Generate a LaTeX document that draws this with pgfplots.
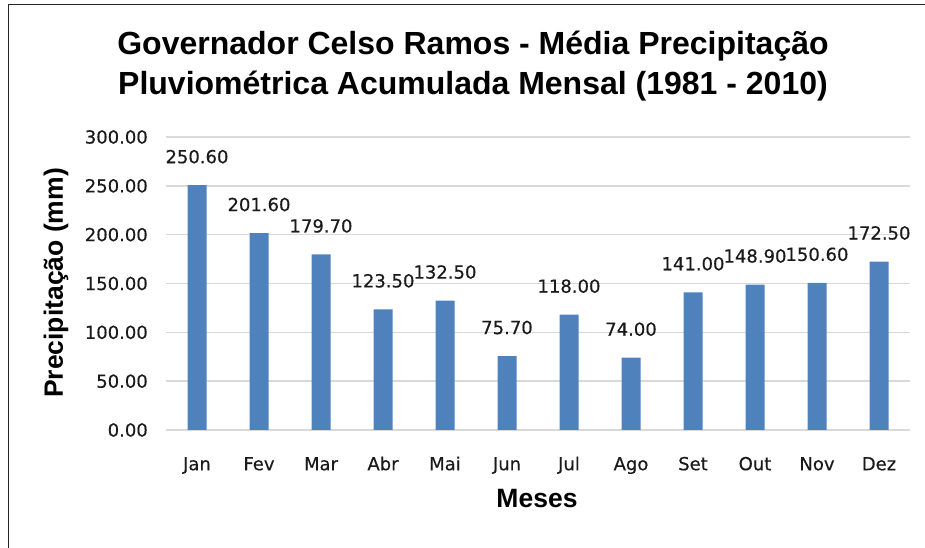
\documentclass[border=0pt]{standalone}
\usepackage{fontspec}
\setmainfont{DejaVu Sans}
\newfontfamily\arialfont{Liberation Sans}
\newfontfamily\tickfont[FakeBold=0.4]{DejaVu Sans}
\usepackage{pgfplots}
\pgfplotsset{compat=1.18}
\definecolor{barblue}{HTML}{4F81BD}
\definecolor{gridgray}{HTML}{D9D9D9}
\definecolor{txt}{HTML}{1A1A1A}
\begin{document}
\begin{tikzpicture}[x=1bp,y=1bp]
\useasboundingbox (0,0) rectangle (925,548);
\draw[line width=1.3bp,black!85] (8.5,0) -- (8.5,543.5) -- (925,543.5);
\node[font=\arialfont\bfseries\fontsize{32bp}{40bp}\selectfont, anchor=base] at (473,493) {Governador Celso Ramos - Média Precipitação};
\node[font=\arialfont\bfseries\fontsize{32bp}{40bp}\selectfont, anchor=base] at (473,453) {Pluviométrica Acumulada Mensal (1981 - 2010)};
\node[font=\arialfont\bfseries\fontsize{26.5bp}{30bp}\selectfont, rotate=90, anchor=center] at (56,265) {Precipitação (mm)};
\node[font=\arialfont\bfseries\fontsize{26.5bp}{30bp}\selectfont, anchor=center] at (537,49) {Meses};
\begin{axis}[
  at={(166bp,118bp)}, anchor=south west,
  scale only axis, width=744bp, height=293bp,
  ybar, bar width=19bp,
  xmin=-0.5, xmax=11.5, ymin=0, ymax=300,
  axis line style={draw=none},
  ymajorgrids, grid style={gridgray, line width=1.5bp},
  major tick style={draw=none},
  ytick={0,50,...,300},
  xtick={0,...,11},
  xticklabels={Jan,Fev,Mar,Abr,Mai,Jun,Jul,Ago,Set,Out,Nov,Dez},
  /pgf/number format/assume math mode=true,
  yticklabel={\pgfmathprintnumber[fixed,fixed zerofill,precision=2,1000 sep={}]{\tick}},
  ticklabel style={font=\tickfont\fontsize{18bp}{21bp}\selectfont, text=txt, inner sep=0pt},
  yticklabel style={anchor=east, xshift=-18bp},
  xticklabel style={anchor=base, yshift=-36bp},
  nodes near coords={\pgfmathprintnumber[fixed,fixed zerofill,precision=2,1000 sep={}]{\pgfplotspointmeta}},
  nodes near coords style={font=\tickfont\fontsize{18bp}{21bp}\selectfont, text=txt, anchor=base, yshift=22bp, inner sep=0pt},
]
\addplot[fill=barblue, draw=none] coordinates {
(0,250.6) (1,201.6) (2,179.7) (3,123.5) (4,132.5) (5,75.7)
(6,118.0) (7,74.0) (8,141.0) (9,148.9) (10,150.6) (11,172.5)};
\end{axis}
\end{tikzpicture}
\end{document}
